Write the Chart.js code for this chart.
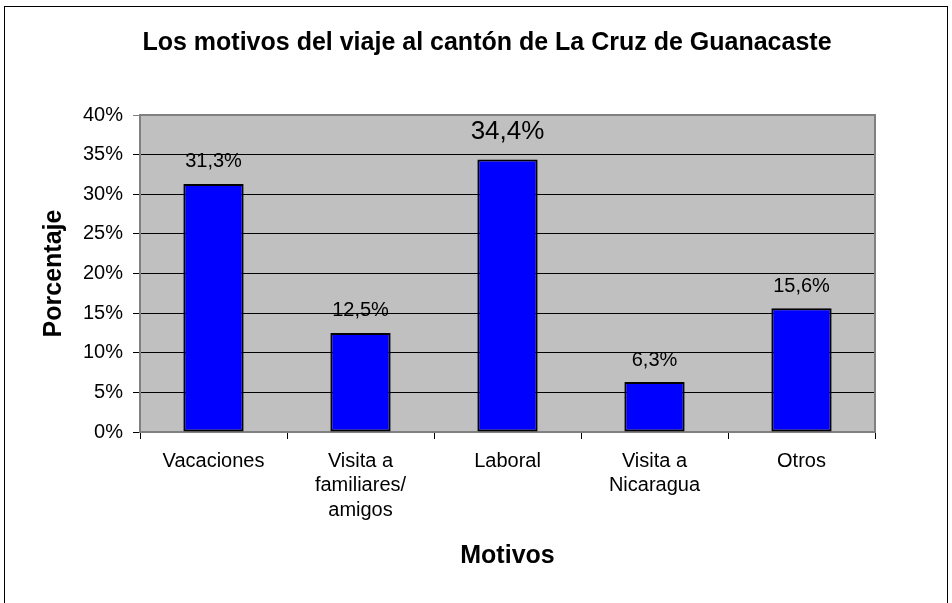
<!DOCTYPE html>
<html lang="es">
<head>
<meta charset="utf-8">
<title>Motivos del viaje</title>
<script src="https://cdn.jsdelivr.net/npm/chart.js@4.4.1/dist/chart.umd.min.js"></script>
<style>
    html, body { margin: 0; padding: 0; background: #fff; overflow: hidden; }
    #marco {
        position: absolute; left: 4px; top: 6px;
        width: 942px; height: 640px;
        border: 1px solid #000;
    }
    #grafico { position: absolute; left: 0; top: 0; }
</style>
</head>
<body>
<div id="marco"></div>
<canvas id="grafico" width="952" height="603"></canvas>
<script>
// Datos del gráfico
const motivos = [
    "Vacaciones",
    ["Visita a", "familiares/", "amigos"],
    "Laboral",
    ["Visita a", "Nicaragua"],
    "Otros"
];
const porcentajes = [31.3, 12.5, 34.4, 6.3, 15.6];
const ticksY = [0, 5, 10, 15, 20, 25, 30, 35, 40];

const fuente = "'Liberation Sans', Arial, sans-serif";

//Fondo gris del área de trazado y su borde.
const fondoPlugin = {
    id: "fondo",
    beforeDraw(chart) {
        const { ctx, chartArea: a } = chart;
        ctx.save();
        ctx.fillStyle = "#C0C0C0";
        ctx.fillRect(a.left, a.top, a.right - a.left, a.bottom - a.top);
        ctx.restore();
    },
    afterDatasetsDraw(chart) {
        const { ctx, chartArea: a } = chart;
        ctx.save();
        ctx.strokeStyle = "#808080";
        ctx.lineWidth = 2;
        ctx.beginPath();
        ctx.moveTo(a.left, a.top);
        ctx.lineTo(a.right, a.top);
        ctx.lineTo(a.right, a.bottom);
        ctx.stroke();
        ctx.restore();
    }
};

//Etiquetas de valor sobre cada barra.
const etiquetasPlugin = {
    id: "etiquetas",
    afterDatasetsDraw(chart) {
        const { ctx } = chart;
        const meta = chart.getDatasetMeta(0);
        ctx.save();
        ctx.fillStyle = "#000";
        ctx.textAlign = "center";
        ctx.textBaseline = "middle";
        meta.data.forEach((bar, i) => {
            const grande = i === 2;
            ctx.font = (grande ? 26 : 20) + "px " + fuente;
            const texto = porcentajes[i].toFixed(1).replace(".", ",") + "%";
            ctx.fillText(texto, bar.x, bar.y - (grande ? 28 : 22));
        });
        ctx.restore();
    }
};

const ctx = document.getElementById("grafico");

new Chart(ctx, {
    type: "bar",
    data: {
        labels: motivos,
        datasets: [{
            data: porcentajes,
            backgroundColor: "#0000FF",
            borderColor: "#000000",
            borderWidth: 2,
            borderSkipped: false,
            barPercentage: 0.41,
            categoryPercentage: 1
        }]
    },
    options: {
        responsive: false,
        animation: false,
        layout: { padding: { left: 22, right: 0, top: 0, bottom: 0 } },
        plugins: {
            legend: { display: false },
            tooltip: { enabled: false },
            title: {
                display: true,
                text: "Los motivos del viaje al cantón de La Cruz de Guanacaste",
                color: "#000",
                font: { family: fuente, size: 25, weight: "bold", lineHeight: 1.2 },
                padding: { top: 28, bottom: 57 }
            }
        },
        scales: {
            y: {
                min: 0,
                max: 40,
                afterBuildTicks(scale) {
                    scale.ticks = ticksY.map(v => ({ value: v }));
                },
                afterFit(scale) { scale.width = 118; },
                ticks: {
                    color: "#000",
                    padding: 10,
                    font: { family: fuente, size: 20 },
                    callback: v => v + "%"
                },
                grid: {
                    color: ctx => ctx.tick && ctx.tick.value === 40 ? "#808080" : "#000",
                    lineWidth: 1,
                    tickLength: 7
                },
                border: { color: "#808080", width: 2 },
                title: {
                    display: true,
                    text: "Porcentaje",
                    color: "#000",
                    font: { family: fuente, size: 25, weight: "bold", lineHeight: 1.2 },
                    padding: { top: 17, bottom: 0 }
                }
            },
            // eje vacío a la derecha, solo reserva el margen
            margen: {
                type: "linear",
                position: "right",
                afterFit(scale) { scale.width = 77; },
                ticks: { display: false },
                grid: { display: false },
                border: { display: false }
            },
            x: {
                afterFit(scale) { scale.height = 171; },
                ticks: {
                    color: "#000",
                    padding: 10,
                    maxRotation: 0,
                    autoSkip: false,
                    font: { family: fuente, size: 20, lineHeight: 1.225 }
                },
                grid: {
                    drawOnChartArea: false,
                    color: "#000",
                    tickLength: 7
                },
                border: { color: "#808080", width: 2 },
                title: {
                    display: true,
                    text: "Motivos",
                    color: "#000",
                    font: { family: fuente, size: 25, weight: "bold", lineHeight: 1.2 },
                    padding: { top: 0, bottom: 32 }
                }
            }
        }
    },
    plugins: [fondoPlugin, etiquetasPlugin]
});
</script>
</body>
</html>
